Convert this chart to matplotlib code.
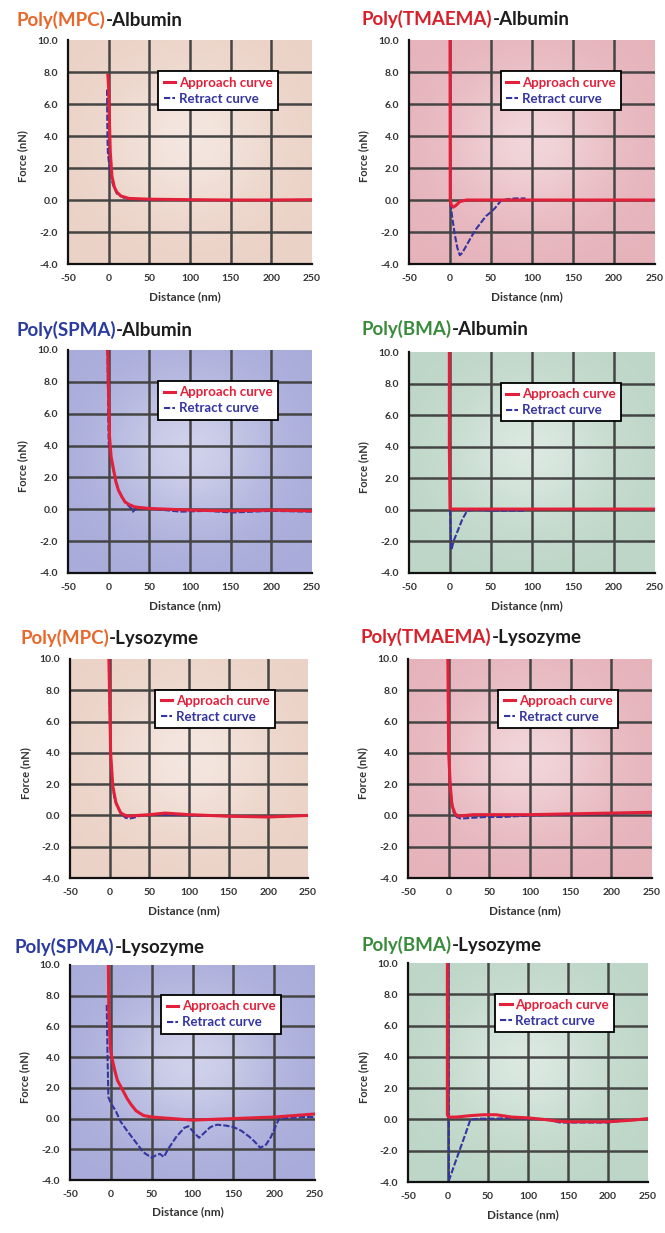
import numpy as np
import matplotlib
matplotlib.use("Agg")
import matplotlib.pyplot as plt
import matplotlib.colors as mcolors

W, H = 665, 1233

# ---------------- data ----------------
polymers = ["Poly(MPC)", "Poly(TMAEMA)", "Poly(SPMA)", "Poly(BMA)",
            "Poly(MPC)", "Poly(TMAEMA)", "Poly(SPMA)", "Poly(BMA)"]
proteins = ["-Albumin", "-Albumin", "-Albumin", "-Albumin",
            "-Lysozyme", "-Lysozyme", "-Lysozyme", "-Lysozyme"]
series_names = ["Approach curve", "Retract curve"]
xticks = [-50, 0, 50, 100, 150, 200, 250]
yticks = [-4, -2, 0, 2, 4, 6, 8, 10]
ytick_labels = ["-4.0", "-2.0", "0.0", "2.0", "4.0", "6.0", "8.0", "10.0"]
xlabel_text = "Distance (nm)"
ylabel_text = "Force (nN)"

# Poly(MPC)-Albumin
mpc_alb_app_x = [-1, 0, 1, 2, 4, 7, 10, 15, 25, 50, 100, 150, 200, 250]
mpc_alb_app_y = [7.8, 7.0, 4.8, 3.0, 1.5, 0.8, 0.5, 0.25, 0.1, 0.05, 0.02, 0.0, 0.0, 0.02]
mpc_alb_ret_x = [-2, -1.8, -1.5, -1, 0, 2, 5, 10, 20, 50]
mpc_alb_ret_y = [6.9, 5.5, 4.0, 3.0, 2.5, 1.8, 1.0, 0.4, 0.1, 0.0]

# Poly(TMAEMA)-Albumin
tm_alb_app_x = [0, 0.3, 1.5, 4, 7, 12, 20, 100, 250]
tm_alb_app_y = [10, 0.0, -0.3, -0.45, -0.35, -0.1, 0.0, 0.0, 0.0]
tm_alb_ret_x = [0.5, 1, 3, 6, 9, 12, 15, 20, 26, 32, 38, 44, 50, 55, 62, 70, 80, 92]
tm_alb_ret_y = [-0.2, -0.4, -1.2, -2.2, -3.0, -3.45, -3.3, -2.85, -2.3, -1.8, -1.4, -1.0, -0.75, -0.5, -0.05, 0.05, 0.1, 0.1]

# Poly(SPMA)-Albumin
spma_alb_app_x = [-1.5, -1, 0, 1, 3, 6, 9, 12, 16, 20, 25, 32, 40, 50, 75, 100, 150, 200, 250]
spma_alb_app_y = [10, 9.7, 7.0, 4.6, 3.3, 2.5, 1.7, 1.2, 0.8, 0.47, 0.3, 0.15, 0.1, 0.05, 0.0, -0.05, -0.1, -0.05, -0.1]
spma_alb_ret_x = [-1.5, -1, -0.5, 0, 1, 3, 6, 12, 20, 27, 30, 33, 40, 60, 88, 120, 152, 200, 250]
spma_alb_ret_y = [10, 8.0, 6.0, 4.2, 3.8, 3.2, 2.4, 1.2, 0.45, 0.1, -0.15, 0.05, 0.1, 0.0, -0.15, -0.1, -0.2, -0.1, -0.15]

# Poly(BMA)-Albumin
bma_alb_app_x = [-0.8, -0.8, 0, 2, 50, 100, 250]
bma_alb_app_y = [10, 4.0, 0.1, 0.05, 0.05, 0.05, 0.05]
bma_alb_ret_x = [0, 1.5, 5, 10, 15, 21, 30, 50, 70, 91]
bma_alb_ret_y = [0.0, -2.55, -1.9, -1.25, -0.6, -0.05, 0.0, -0.05, -0.05, -0.05]

# Poly(MPC)-Lysozyme
mpc_lys_app_x = [-1, 0, 1.2, 4, 8, 14, 22, 35, 50, 70, 100, 150, 200, 250]
mpc_lys_app_y = [10, 7.5, 4.0, 1.85, 0.8, 0.15, -0.05, 0.0, 0.05, 0.15, 0.05, -0.05, -0.1, 0.0]
mpc_lys_ret_x = [-0.5, 0, 1, 3, 6, 10, 15, 20, 25, 30, 40, 60, 100, 150, 200, 250]
mpc_lys_ret_y = [10, 7.0, 4.0, 2.2, 1.1, 0.5, 0.1, -0.15, -0.2, -0.15, 0.0, 0.05, 0.0, -0.05, -0.1, 0.0]

# Poly(TMAEMA)-Lysozyme
tm_lys_app_x = [-1, 0, 2, 4, 8, 12, 30, 100, 150, 200, 250]
tm_lys_app_y = [10, 4.0, 1.9, 0.65, 0.1, -0.05, 0.05, 0.05, 0.1, 0.15, 0.2]
tm_lys_ret_x = [1, 3.3, 6, 10, 15, 29, 45, 67, 100, 150, 200, 250]
tm_lys_ret_y = [2.6, 1.1, 0.2, -0.1, -0.2, -0.15, -0.1, -0.1, 0.0, 0.05, 0.1, 0.2]

# Poly(SPMA)-Lysozyme
spma_lys_app_x = [-3, -2.5, -1, 0, 2, 5, 8, 12, 16, 20, 25, 31, 40, 50, 75, 100, 150, 200, 250]
spma_lys_app_y = [10, 7.0, 5.0, 4.3, 3.8, 3.1, 2.5, 2.1, 1.7, 1.3, 0.9, 0.5, 0.2, 0.1, 0.0, -0.1, 0.0, 0.1, 0.3]
spma_lys_ret_x = [-5, -4, -3, 0, 6, 12, 20, 30, 40, 50, 55, 60, 65, 70, 80, 90, 95, 100, 108, 115, 122, 130, 140,
                  150, 160, 170, 176, 183, 190, 196, 201, 206, 220, 235, 250]
spma_lys_ret_y = [7.4, 4.0, 1.4, 1.0, 0.5, -0.2, -0.8, -1.5, -2.2, -2.55, -2.4, -2.3, -2.5, -2.0, -1.2, -0.6, -0.5, -0.8, -1.25, -0.9, -0.55, -0.4, -0.45,
                  -0.55, -0.8, -1.2, -1.5, -1.9, -1.7, -1.2, -0.6, 0.0, 0.05, 0.1, 0.1]

# Poly(BMA)-Lysozyme
bma_lys_app_x = [-0.8, -0.8, 0, 1, 10, 30, 45, 60, 80, 100, 120, 135, 150, 200, 230, 250]
bma_lys_app_y = [10, 0.3, 0.2, 0.15, 0.15, 0.25, 0.3, 0.3, 0.15, 0.1, 0.0, -0.1, -0.15, -0.15, -0.05, 0.05]
bma_lys_ret_x = [0.5, 1.2, 8, 15, 22, 28, 40, 60, 80, 100, 125, 140, 160, 200, 215, 250]
bma_lys_ret_y = [10, -3.9, -2.9, -1.9, -0.9, 0.0, 0.05, 0.05, 0.1, 0.05, 0.0, -0.2, -0.2, -0.2, -0.1, 0.05]

approach = [(mpc_alb_app_x, mpc_alb_app_y), (tm_alb_app_x, tm_alb_app_y),
            (spma_alb_app_x, spma_alb_app_y), (bma_alb_app_x, bma_alb_app_y),
            (mpc_lys_app_x, mpc_lys_app_y), (tm_lys_app_x, tm_lys_app_y),
            (spma_lys_app_x, spma_lys_app_y), (bma_lys_app_x, bma_lys_app_y)]
retract = [(mpc_alb_ret_x, mpc_alb_ret_y), (tm_alb_ret_x, tm_alb_ret_y),
           (spma_alb_ret_x, spma_alb_ret_y), (bma_alb_ret_x, bma_alb_ret_y),
           (mpc_lys_ret_x, mpc_lys_ret_y), (tm_lys_ret_x, tm_lys_ret_y),
           (spma_lys_ret_x, spma_lys_ret_y), (bma_lys_ret_x, bma_lys_ret_y)]

# ---------------- style ----------------
poly_color = {"Poly(MPC)": "#e8682c", "Poly(TMAEMA)": "#d81f2a",
              "Poly(SPMA)": "#2b3a9e", "Poly(BMA)": "#3a8c3c"}
bg_color = {"Poly(MPC)": "#ebd2c6", "Poly(TMAEMA)": "#e6b3bb",
            "Poly(SPMA)": "#a9acda", "Poly(BMA)": "#bdd6c7"}
RED = "#e3203a"
BLUE = "#3535a0"
FONT = ["Lato", "DejaVu Sans"]

# axes rectangles in pixels (left, top, right, bottom)
rects = [(68, 40, 312, 264), (409, 40, 655, 264),
         (68, 350, 312, 573), (409, 352, 655, 573),
         (70, 659, 308, 878), (408, 659, 652, 878),
         (70, 965, 315, 1180), (408, 963, 648, 1182)]
title_pos = [(17, 26), (362, 25), (16, 336), (362, 335),
             (20, 644), (361, 643), (15, 953), (362, 951)]

fig = plt.figure(figsize=(W / 100, H / 100), dpi=100)
fig.patch.set_facecolor("white")

for i in range(8):
    l, t, r, b = rects[i]
    ax = fig.add_axes([l / W, 1 - b / H, (r - l) / W, (b - t) / H])
    poly = polymers[i]

    # background with light centre
    c = np.array(mcolors.to_rgb(bg_color[poly]))
    yy, xx = np.mgrid[0:1:120j, 0:1:120j]
    w = 0.45 * np.exp(-(((xx - 0.5) / 0.33) ** 2 + ((yy - 0.55) / 0.33) ** 2))
    img = c[None, None, :] * (1 - w[..., None]) + w[..., None]
    ax.imshow(img, extent=[xticks[0], xticks[-1], yticks[0], yticks[-1]],
              aspect="auto", origin="lower", zorder=0, interpolation="bilinear")

    for xv in xticks[1:-1]:
        ax.axvline(xv, color="#454545", lw=1.8, zorder=1)
    for yv in yticks[1:-1]:
        ax.axhline(yv, color="#454545", lw=1.8, zorder=1)

    rx, ry = retract[i]
    axp, ayp = approach[i]
    lb, = ax.plot(rx, ry, color=BLUE, lw=1.5, zorder=3, dashes=(3, 1))
    lr, = ax.plot(axp, ayp, color=RED, lw=2.2, zorder=4)

    ax.set_xlim(xticks[0], xticks[-1])
    ax.set_ylim(yticks[0], yticks[-1])
    ax.set_xticks(xticks)
    ax.set_xticklabels([str(v) for v in xticks])
    ax.set_yticks(yticks)
    ax.set_yticklabels(ytick_labels)
    ax.tick_params(length=0, labelsize=7.5, labelcolor="#333333", pad=7)
    for lab in ax.get_xticklabels() + ax.get_yticklabels():
        lab.set_fontfamily(FONT)
        lab.set_fontweight("bold")
    for s in ["top", "right"]:
        ax.spines[s].set_visible(False)
    for s in ["left", "bottom"]:
        ax.spines[s].set_linewidth(1.6)
        ax.spines[s].set_color("#111111")
        ax.spines[s].set_zorder(5)

    ax.text(0.48, -0.147, xlabel_text, transform=ax.transAxes, ha="center", va="center",
            fontsize=8.5, fontweight="bold", family=FONT, color="#333333")
    ax.text(-0.185, 0.48, ylabel_text, transform=ax.transAxes, ha="center", va="center",
            rotation=90, fontsize=8, fontweight="bold", family=FONT, color="#333333")

    leg = ax.legend([lr, lb], series_names, loc="upper right", bbox_to_anchor=(0.86, 0.86),
                    frameon=True, fancybox=False, edgecolor="black", framealpha=1,
                    prop=dict(family=FONT, weight="bold", size=9.5),
                    handlelength=0.85, handletextpad=0.3, labelspacing=0.3,
                    borderpad=0.4, borderaxespad=0)
    leg.get_frame().set_linewidth(1.3)
    for txt, col in zip(leg.get_texts(), [RED, BLUE]):
        txt.set_color(col)
    leg.set_zorder(6)

    tx, ty = title_pos[i]
    t1 = fig.text(tx / W, 1 - ty / H, poly, color=poly_color[poly], fontsize=13.5,
                  fontweight="bold", family=FONT, va="baseline", ha="left")
    ax.annotate(proteins[i], xy=(1, 0), xycoords=t1, va="bottom", ha="left",
                fontsize=13.5, fontweight="bold", family=FONT, color="#1c1c1c",
                annotation_clip=False)

fig.savefig("out.png", dpi=100)
